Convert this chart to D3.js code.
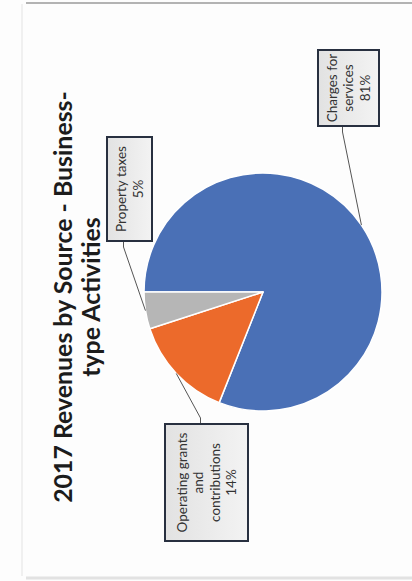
<!DOCTYPE html>
<html>
<head>
<meta charset="utf-8">
<script src="https://cdn.jsdelivr.net/npm/d3@7"></script>
<style>
    html, body { margin: 0; padding: 0; background: #fff; }
    #chart { width: 412px; height: 581px; }
    svg { display: block; }
</style>
</head>
<body>
<div id="chart"></div>
<script>
// values
const titleLines = ["2017 Revenues by Source - Business-", "type Activities"];
const categories = ["Charges for services", "Operating grants and contributions", "Property taxes"];
const shares = [81, 14, 5];
const labelLines = [["Charges for", "services"], ["Operating grants", "and", "contributions"], ["Property taxes"]];
const sliceColors = ["#4a70b6", "#ec6a2b", "#b6b6b6"];

// label boxes in chart coords (the page is scanned turned on its side)
const labelBoxes = [
    {x: 455, y: 318, w: 76, h: 61, side: "left"},
    {x: 40, y: 165, w: 117, h: 83, side: "right"},
    {x: 340, y: 107, w: 104, h: 45, side: "left"}
];

class RevenuePie {

    constructor(parentElement) {
        this.parentElement = parentElement;
        this.initVis();
    }

    initVis() {
        let vis = this;

        vis.pageW = 412;
        vis.pageH = 581;

        vis.svg = d3.select("#" + vis.parentElement).append("svg")
            .attr("width", vis.pageW)
            .attr("height", vis.pageH);

        let defs = vis.svg.append("defs");
        let grad = defs.append("linearGradient")
            .attr("id", "boxFill")
            .attr("x1", 0).attr("y1", 0).attr("x2", 0).attr("y2", 1);
        grad.append("stop").attr("offset", "0%").attr("stop-color", "#e2e2e2");
        grad.append("stop").attr("offset", "100%").attr("stop-color", "#f3f3f3");

        // page edges from the scan
        vis.svg.append("rect").attr("width", vis.pageW).attr("height", vis.pageH).attr("fill", "#fdfdfd");
        vis.svg.append("line")
            .attr("x1", 26).attr("x2", vis.pageW).attr("y1", 3).attr("y2", 3)
            .attr("stroke", "#9a9a9a").attr("stroke-width", 1.5);
        vis.svg.append("line")
            .attr("x1", 22).attr("x2", 22).attr("y1", 4).attr("y2", 576)
            .attr("stroke", "#f0f0f0").attr("stroke-width", 2);
        vis.svg.append("line")
            .attr("x1", 26).attr("x2", vis.pageW).attr("y1", 578).attr("y2", 578)
            .attr("stroke", "#e2e2e2").attr("stroke-width", 3);

        // the chart itself, drawn upright and then turned a quarter to the left
        vis.width = vis.pageH;
        vis.height = vis.pageW;
        vis.chart = vis.svg.append("g")
            .attr("transform", `translate(0,${vis.pageH}) rotate(-90)`);

        vis.cx = 289;
        vis.cy = 263;
        vis.radius = 119;

        vis.wrangleData();
    }

    wrangleData() {
        let vis = this;

        vis.displayData = categories.map((c, i) => ({
            name: c,
            value: shares[i],
            lines: labelLines[i].concat([shares[i] + "%"]),
            color: sliceColors[i],
            box: labelBoxes[i]
        }));

        vis.updateVis();
    }

    updateVis() {
        let vis = this;

        // title
        let title = vis.chart.append("text")
            .attr("text-anchor", "middle")
            .attr("font-family", "Lato, 'Open Sans', sans-serif")
            .attr("font-weight", "bold")
            .attr("fill", "#1c1c1c")
            .attr("font-size", 25);
        title.selectAll("tspan")
            .data(titleLines)
            .join("tspan")
            .attr("x", 284)
            .attr("y", (d, i) => 72 + i * 28)
            .text(d => d);

        // fit the first line to the width seen on the page
        let firstLen = title.select("tspan").node().getComputedTextLength();
        title.attr("font-size", 25 * 412 / firstLen);

        let pie = d3.pie()
            .sort(null)
            .value(d => d.value);

        let arc = d3.arc()
            .innerRadius(0)
            .outerRadius(vis.radius);

        let edge = d3.arc()
            .innerRadius(vis.radius)
            .outerRadius(vis.radius);

        let arcs = pie(vis.displayData);

        let pieGroup = vis.chart.append("g")
            .attr("transform", `translate(${vis.cx},${vis.cy})`);

        pieGroup.selectAll(".slice")
            .data(arcs)
            .join("path")
            .attr("class", "slice")
            .attr("d", arc)
            .attr("fill", d => d.data.color)
            .attr("stroke", "#ffffff")
            .attr("stroke-width", 1.5)
            .attr("stroke-linejoin", "round");

        // leader lines from each box to the rim of its slice
        vis.chart.selectAll(".leader")
            .data(arcs)
            .join("path")
            .attr("class", "leader")
            .attr("fill", "none")
            .attr("stroke", "#555")
            .attr("stroke-width", 1)
            .attr("d", d => {
                let b = d.data.box;
                let sx = b.side === "left" ? b.x : b.x + b.w;
                let sy = b.y + b.h / 2 - 6;
                let ex = sx + (b.side === "left" ? -6 : 6);
                let p = edge.centroid(d);
                return `M${sx},${sy}L${ex},${sy}L${vis.cx + p[0]},${vis.cy + p[1]}`;
            });

        // label boxes
        let labels = vis.chart.selectAll(".label")
            .data(vis.displayData)
            .join("g")
            .attr("class", "label");

        labels.append("rect")
            .attr("x", d => d.box.x)
            .attr("y", d => d.box.y)
            .attr("width", d => d.box.w)
            .attr("height", d => d.box.h)
            .attr("fill", "url(#boxFill)")
            .attr("stroke", "#283040")
            .attr("stroke-width", 2);

        labels.append("text")
            .attr("text-anchor", "middle")
            .attr("font-family", "Lato, 'Open Sans', sans-serif")
            .attr("font-size", 13.5)
            .attr("fill", "#333")
            .each(function(d) {
                let n = d.lines.length;
                let midY = d.box.y + d.box.h / 2;
                d3.select(this).selectAll("tspan")
                    .data(d.lines)
                    .join("tspan")
                    .attr("x", d.box.x + d.box.w / 2)
                    .attr("y", (t, i) => midY + (i - (n - 1) / 2) * 16.5 + 4.8)
                    .text(t => t);
            });
    }
}

new RevenuePie("chart");
</script>
</body>
</html>
